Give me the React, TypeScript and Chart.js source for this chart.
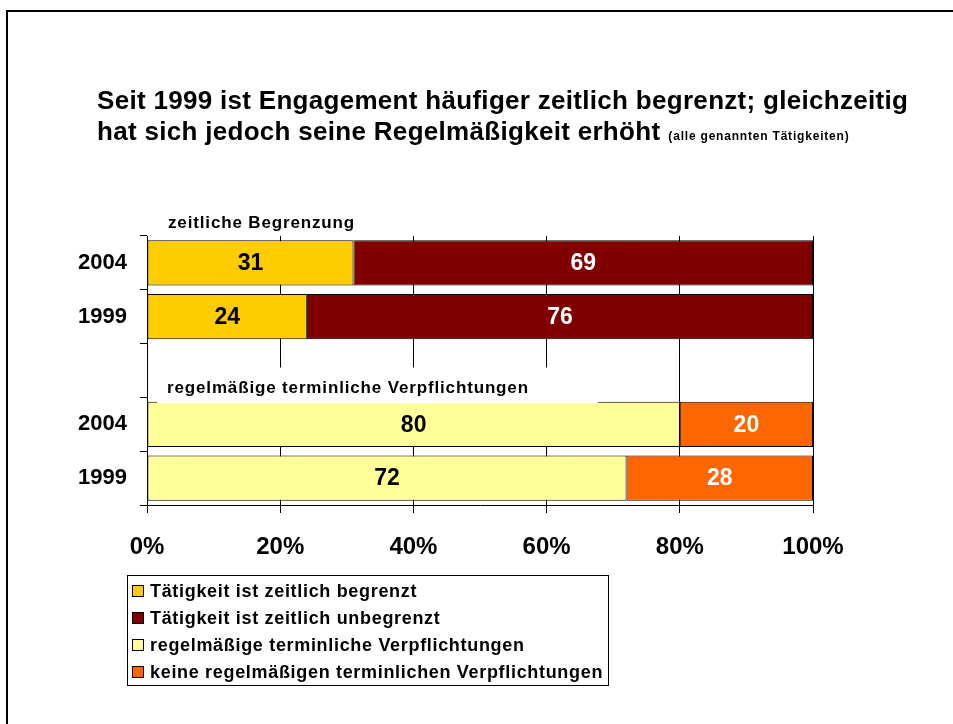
import React, { useEffect, useRef } from 'react';
import { Chart, registerables } from 'chart.js';

Chart.register(...registerables);

// ---- data ----
const categories = ['2004', '1999', '', '2004', '1999'];
const begrenzt = [31, 24, null, null, null];
const unbegrenzt = [69, 76, null, null, null];
const regelmaessig = [null, null, null, 80, 72];
const keineRegel = [null, null, null, 20, 28];
const seriesNames = [
  'Tätigkeit ist zeitlich begrenzt',
  'Tätigkeit ist zeitlich unbegrenzt',
  'regelmäßige terminliche Verpflichtungen',
  'keine regelmäßigen terminlichen Verpflichtungen',
];
const seriesColors = ['#FFCC00', '#800000', '#FFFF99', '#FF6600'];
const labelColors = ['#000000', '#FFFFFF', '#000000', '#FFFFFF'];
const xTickStep = 20;
const titleLine1 = 'Seit 1999 ist Engagement häufiger zeitlich begrenzt; gleichzeitig';
const titleLine2 = 'hat sich jedoch seine Regelmäßigkeit erhöht';
const titleNote = '(alle genannten Tätigkeiten)';
const sectionLabels = ['zeitliche Begrenzung', 'regelmäßige terminliche Verpflichtungen'];

const FONT = '"Liberation Sans", Arial, Helvetica, sans-serif';

const setSpacing = (ctx: any, v: string) => {
  if ('letterSpacing' in ctx) ctx.letterSpacing = v;
};

const overlayPlugin = {
  id: 'overlay',
  beforeDraw(chart: any) {
    const ctx = chart.ctx;
    ctx.save();
    ctx.fillStyle = '#000';
    ctx.fillRect(6, 10, chart.width, 2);
    ctx.fillRect(6, 10, 2, chart.height);
    ctx.restore();
  },
  afterDatasetsDraw(chart: any) {
    const ctx = chart.ctx;
    const area = chart.chartArea;
    const y = chart.scales.y;
    ctx.save();
    // data labels
    chart.data.datasets.forEach((ds: any, di: number) => {
      const meta = chart.getDatasetMeta(di);
      meta.data.forEach((el: any, i: number) => {
        const v = ds.data[i];
        if (v === null || v === undefined) return;
        const cx = (el.x + el.base) / 2;
        ctx.font = `bold 23px ${FONT}`;
        ctx.fillStyle = labelColors[di];
        ctx.textAlign = 'center';
        ctx.textBaseline = 'middle';
        ctx.fillText(String(v), cx, el.y + 1);
      });
    });
    // section label 1 (above chart area)
    ctx.font = `bold 17px ${FONT}`;
    setSpacing(ctx, '0.85px');
    ctx.fillStyle = '#000';
    ctx.textAlign = 'left';
    ctx.textBaseline = 'alphabetic';
    ctx.fillText(sectionLabels[0], area.left + 21, area.top - 8);
    // section label 2 in the gap row, with white box
    const el = chart.getDatasetMeta(2).data[3];
    const barTop = el.y - el.height / 2;
    const gapCenter = y.getPixelForValue(2);
    ctx.fillStyle = '#FFFFFF';
    ctx.fillRect(area.left + 10, gapCenter - 3, 441, barTop + 1.5 - (gapCenter - 3));
    ctx.fillStyle = '#000';
    ctx.fillText(sectionLabels[1], area.left + 20, barTop - 9);
    setSpacing(ctx, '0px');
    ctx.restore();
  },
  afterDraw(chart: any) {
    const ctx = chart.ctx;
    ctx.save();
    // title
    ctx.fillStyle = '#000';
    ctx.textAlign = 'left';
    ctx.textBaseline = 'alphabetic';
    ctx.font = `bold 26px ${FONT}`;
    setSpacing(ctx, '0.3px');
    ctx.fillText(titleLine1, 97, 109);
    ctx.fillText(titleLine2, 97, 140);
    const w2 = ctx.measureText(titleLine2).width;
    ctx.font = `bold 12px ${FONT}`;
    setSpacing(ctx, '0.8px');
    ctx.fillText(titleNote, 97 + w2 + 8, 140);
    // legend
    ctx.strokeStyle = '#000';
    ctx.lineWidth = 1;
    ctx.strokeRect(127.5, 575.5, 481, 110);
    ctx.font = `bold 18px ${FONT}`;
    setSpacing(ctx, '0.68px');
    ctx.textBaseline = 'middle';
    seriesNames.forEach((name, i) => {
      const cy = 591 + i * 27;
      ctx.fillStyle = seriesColors[i];
      ctx.fillRect(132, cy - 6, 12, 12);
      ctx.strokeRect(132.5, cy - 5.5, 11, 11);
      ctx.fillStyle = '#000';
      ctx.fillText(name, 150, cy + 1);
    });
    setSpacing(ctx, '0px');
    ctx.restore();
  },
};

export default function App() {
  const ref = useRef<HTMLCanvasElement | null>(null);
  useEffect(() => {
    if (!ref.current) return;
    const datasets = [begrenzt, unbegrenzt, regelmaessig, keineRegel].map((d, i) => ({
      label: seriesNames[i],
      data: d,
      backgroundColor: seriesColors[i],
      borderColor: '#000000',
      borderWidth: 1,
      borderSkipped: false,
      categoryPercentage: 1,
      barPercentage: 0.84,
    }));
    const chart = new Chart(ref.current, {
      type: 'bar',
      data: { labels: categories, datasets },
      options: {
        indexAxis: 'y',
        animation: false,
        responsive: false,
        maintainAspectRatio: false,
        layout: { padding: { top: 236, right: 140, bottom: 149, left: 0 } },
        plugins: { legend: { display: false }, title: { display: false }, tooltip: { enabled: false } },
        scales: {
          x: {
            stacked: true,
            min: 0,
            max: 100,
            ticks: {
              stepSize: xTickStep,
              callback: (v: any) => v + '%',
              font: { family: FONT, size: 24, weight: 'bold' },
              color: '#000',
              padding: 20,
              maxRotation: 0,
            },
            grid: { color: '#000', lineWidth: 1, tickLength: 8 },
            border: { color: '#000', width: 1 },
            afterFit: (s: any) => { s.height = 70; },
          },
          y: {
            stacked: true,
            ticks: { font: { family: FONT, size: 22, weight: 'bold' }, color: '#000', padding: 13 },
            grid: { drawOnChartArea: false, tickLength: 7, color: '#000', offset: true },
            border: { color: '#000', width: 1 },
            afterFit: (s: any) => { s.width = 147; },
          },
        },
      },
      plugins: [overlayPlugin],
    } as any);
    return () => chart.destroy();
  }, []);
  return (
    <div style={{ position: 'fixed', left: 0, top: 0, width: 953, height: 724, overflow: 'hidden', background: '#fff' }}>
      <canvas ref={ref} width={953} height={724} style={{ display: 'block' }} />
    </div>
  );
}
